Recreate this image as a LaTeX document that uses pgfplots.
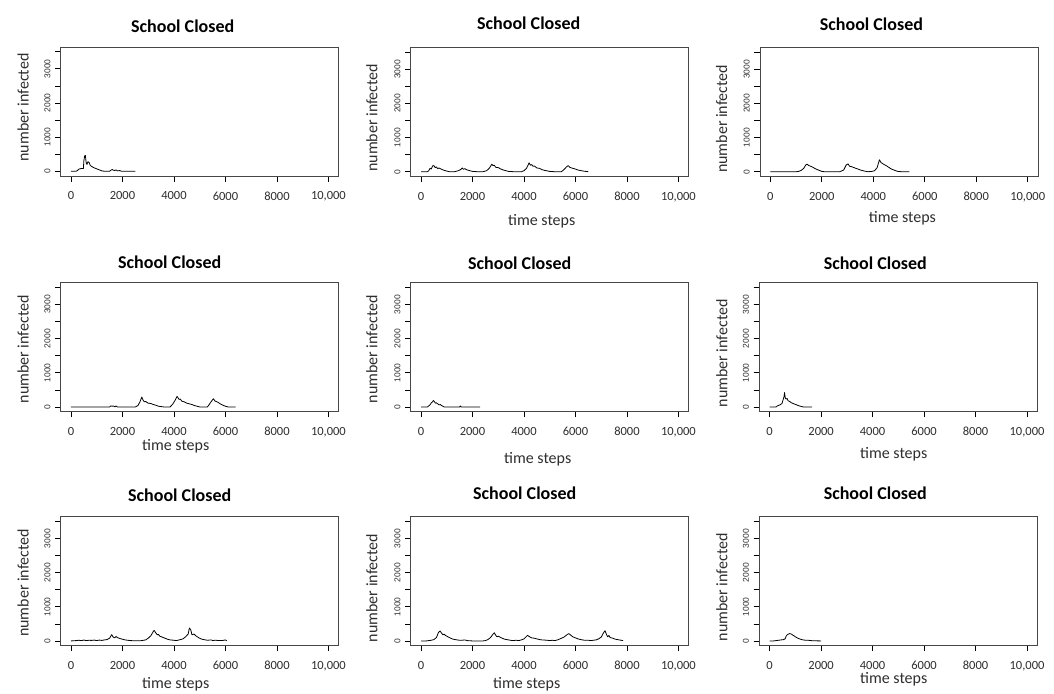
\documentclass[border=0pt]{standalone}
\usepackage{fontspec}
\setmainfont{Carlito}
\newfontfamily\arialf{Liberation Sans}
\usepackage{pgfplots}
\pgfplotsset{compat=1.18}
\definecolor{axcol}{rgb}{0.28,0.28,0.28}
\definecolor{txtcol}{rgb}{0.18,0.18,0.18}
\pgfplotsset{
  panel/.style={
    scale only axis, width=278pt, height=129pt,
    anchor=north west,
    xmin=-400, xmax=10400, ymin=-140, ymax=3640,
    scaled ticks=false,
    xtick={0,2000,4000,6000,8000,10000},
    xticklabels={0,2000,4000,6000,8000,{10,000}},
    ytick={0,500,1000,1500,2000,2500,3000,3500},
    yticklabels={0,,1000,,2000,,3000,},
    tick align=outside, major tick length=5.7pt,
    tick pos=left,
    axis line style={draw=axcol, line width=1pt},
    tick style={draw=black, line width=0.7pt},
    xticklabel style={font=\fontsize{12.5}{12.5}\selectfont, text=txtcol},
    xticklabel shift=6.5pt,
    yticklabel style={font=\arialf\fontsize{8.5}{8.5}\selectfont, rotate=90, anchor=south, text=txtcol},
    yticklabel shift=1pt,
    every axis y label/.style={anchor=center, rotate=90,
       font=\fontsize{16}{16}\selectfont, text=txtcol},
    every axis x label/.style={at={(axis description cs:0.5,0)}, anchor=center,
       font=\fontsize{16}{16}\selectfont, text=txtcol},
    every axis title/.style={at={(axis description cs:0.5,1)}, anchor=center,
       font=\bfseries\fontsize{18}{18}\selectfont, text=black},
    ylabel={number infected},
    title={School Closed},
    clip=true,
  },
  curve/.style={black, line width=0.8pt, line join=round}
}
\begin{document}
\begin{tikzpicture}
\useasboundingbox (0,0) rectangle (1054pt,-693pt);
% Row 1, col 1
\begin{axis}[panel, at={(60.7pt,-47pt)},
  title style={xshift=-17pt, yshift=21pt},
  ylabel style={at={(axis description cs:-0.135,0.531)}}]
\addplot[curve] coordinates {(0,0) (200,0) (250,20) (300,60) (400,80) (480,80) (500,300) (530,450) (560,460) (590,250) (620,200) (660,280) (700,260) (750,170) (800,140) (900,100) (1000,70) (1100,40) (1200,10) (1300,0) (1500,0) (1550,30) (1600,50) (1650,30) (1700,20) (1750,40) (1800,10) (1900,20) (1950,0) (2500,0)};
\end{axis}
% Row 1, col 2
\begin{axis}[panel, at={(410.7pt,-47.5pt)}, xlabel={time steps},
  title style={xshift=-21pt, yshift=24.5pt},
  ylabel style={at={(axis description cs:-0.14,0.456)}},
  xlabel style={xshift=-8pt, yshift=-44.5pt}]
\addplot[curve] coordinates {(0,0) (250,0) (300,30) (350,100) (400,80) (450,170) (500,180) (550,120) (600,140) (650,90) (700,110) (800,70) (900,40) (1000,20) (1100,0) (1300,0) (1450,30) (1550,70) (1600,110) (1650,70) (1700,90) (1800,50) (1900,30) (2000,10) (2200,0) (2400,0) (2550,30) (2650,100) (2750,220) (2800,180) (2850,190) (2900,130) (3000,120) (3100,80) (3200,50) (3400,10) (3600,0) (3900,0) (4000,30) (4100,100) (4200,260) (4250,190) (4300,210) (4350,160) (4400,170) (4500,110) (4600,100) (4700,60) (4800,40) (5000,10) (5200,0) (5450,0) (5550,60) (5650,140) (5720,180) (5780,130) (5850,110) (5950,90) (6100,50) (6300,20) (6500,0)};
\end{axis}
% Row 1, col 3
\begin{axis}[panel, at={(760pt,-47.5pt)}, xlabel={time steps},
  title style={xshift=-27.6pt, yshift=23.5pt},
  ylabel style={at={(axis description cs:-0.138,0.446)}},
  xlabel style={xshift=3.4pt, yshift=-42pt}]
\addplot[curve] coordinates {(0,0) (1000,0) (1100,10) (1200,40) (1300,100) (1380,200) (1430,220) (1500,180) (1600,150) (1700,110) (1800,70) (1900,40) (2000,10) (2100,0) (2700,0) (2850,50) (2950,200) (3020,230) (3080,160) (3150,150) (3250,120) (3400,80) (3500,50) (3650,20) (3800,0) (3950,10) (4050,30) (4150,120) (4200,250) (4240,350) (4300,270) (4400,220) (4500,180) (4600,130) (4700,80) (4800,50) (4950,10) (5100,0) (5400,0)};
\end{axis}
% Row 2, col 1
\begin{axis}[panel, at={(60.7pt,-282.7pt)}, xlabel={time steps},
  title style={xshift=-30pt, yshift=20pt},
  ylabel style={at={(axis description cs:-0.135,0.484)}},
  xlabel style={xshift=-24pt, yshift=-35pt}]
\addplot[curve] coordinates {(0,0) (1500,0) (1550,30) (1600,20) (1650,30) (1700,0) (1750,30) (1800,0) (2500,0) (2600,40) (2680,150) (2750,290) (2800,200) (2850,150) (2900,160) (3000,110) (3100,100) (3200,70) (3300,50) (3400,20) (3600,0) (3850,0) (3950,80) (4050,200) (4120,310) (4200,220) (4250,230) (4300,170) (4400,150) (4500,110) (4600,90) (4700,70) (4800,40) (4900,20) (5000,0) (5300,0) (5350,50) (5450,160) (5530,240) (5600,170) (5700,140) (5800,90) (5900,50) (6000,20) (6100,0) (6400,0)};
\end{axis}
% Row 2, col 2
\begin{axis}[panel, at={(410.7pt,-282.7pt)}, xlabel={time steps},
  title style={xshift=-30pt, yshift=19.7pt},
  ylabel style={at={(axis description cs:-0.14,0.484)}},
  xlabel style={xshift=-12pt, yshift=-47.3pt}]
\addplot[curve] coordinates {(0,0) (250,0) (300,30) (350,60) (400,120) (450,150) (480,190) (520,160) (560,110) (600,120) (650,90) (700,60) (750,70) (800,40) (850,20) (900,0) (1500,0) (1530,30) (1560,0) (2300,0)};
\end{axis}
% Row 2, col 3
\begin{axis}[panel, at={(759.3pt,-282.7pt)}, xlabel={time steps},
  title style={xshift=-23pt, yshift=19.7pt},
  ylabel style={at={(axis description cs:-0.135,0.453)}},
  xlabel style={xshift=-4.6pt, yshift=-42.3pt}]
\addplot[curve] coordinates {(0,0) (250,0) (300,30) (400,60) (480,100) (520,200) (560,300) (580,420) (610,260) (640,230) (680,250) (720,180) (780,160) (850,120) (950,90) (1050,60) (1150,30) (1250,10) (1300,0) (1650,0)};
\end{axis}
% Row 3, col 1
\begin{axis}[panel, at={(60.7pt,-516.7pt)}, xlabel={time steps},
  title style={xshift=-20pt, yshift=21.7pt},
  ylabel style={at={(axis description cs:-0.135,0.487)}},
  xlabel style={xshift=-24pt, yshift=-39pt}]
\addplot[curve] coordinates {(0,0) (200,10) (300,20) (400,10) (500,25) (600,10) (700,20) (800,15) (900,25) (1000,10) (1100,25) (1200,15) (1300,30) (1400,40) (1500,80) (1580,185) (1640,110) (1700,90) (1750,130) (1800,100) (1900,70) (2000,50) (2100,30) (2200,20) (2300,10) (2500,5) (2700,5) (2900,30) (3000,80) (3100,150) (3200,280) (3230,310) (3300,230) (3350,180) (3400,190) (3450,140) (3550,110) (3650,80) (3750,50) (3850,30) (4000,20) (4100,10) (4200,30) (4350,60) (4450,120) (4550,200) (4600,380) (4650,330) (4700,180) (4780,200) (4850,150) (4950,100) (5050,60) (5150,40) (5300,20) (5450,30) (5500,10) (5600,20) (5800,10) (5900,15) (6000,30) (6050,0)};
\end{axis}
% Row 3, col 2
\begin{axis}[panel, at={(410.7pt,-516.7pt)}, xlabel={time steps},
  title style={xshift=-25pt, yshift=23.7pt},
  ylabel style={at={(axis description cs:-0.14,0.446)}},
  xlabel style={xshift=-23pt, yshift=-39pt}]
\addplot[curve] coordinates {(0,0) (200,0) (300,10) (400,20) (500,40) (600,100) (680,250) (740,290) (800,230) (850,180) (900,200) (950,160) (1050,120) (1150,80) (1250,50) (1400,30) (1500,20) (1600,20) (1700,30) (1800,10) (2000,0) (2400,0) (2500,10) (2600,40) (2700,100) (2800,200) (2850,240) (2900,170) (2950,120) (3000,140) (3050,120) (3150,80) (3250,50) (3400,30) (3550,10) (3700,20) (3800,10) (3900,30) (4000,60) (4080,120) (4140,165) (4200,130) (4300,90) (4400,80) (4500,60) (4600,40) (4700,30) (4900,20) (5000,10) (5100,20) (5200,10) (5300,30) (5400,60) (5550,110) (5650,170) (5740,215) (5800,180) (5900,120) (6000,90) (6100,60) (6200,40) (6350,20) (6500,20) (6600,10) (6700,20) (6800,30) (6900,60) (7000,110) (7100,250) (7150,300) (7200,200) (7250,120) (7300,160) (7350,100) (7450,80) (7550,50) (7700,30) (7850,10)};
\end{axis}
% Row 3, col 3
\begin{axis}[panel, at={(759.3pt,-516.7pt)}, xlabel={time steps},
  title style={xshift=-23pt, yshift=23.7pt},
  ylabel style={at={(axis description cs:-0.135,0.453)}},
  xlabel style={xshift=-4.6pt, yshift=-34pt}]
\addplot[curve] coordinates {(0,0) (150,0) (250,10) (350,20) (450,30) (550,40) (600,60) (650,150) (700,190) (780,215) (850,200) (900,170) (950,150) (1000,120) (1100,80) (1200,50) (1300,30) (1400,20) (1500,20) (1600,10) (1700,5) (2000,0)};
\end{axis}
\end{tikzpicture}
\end{document}
